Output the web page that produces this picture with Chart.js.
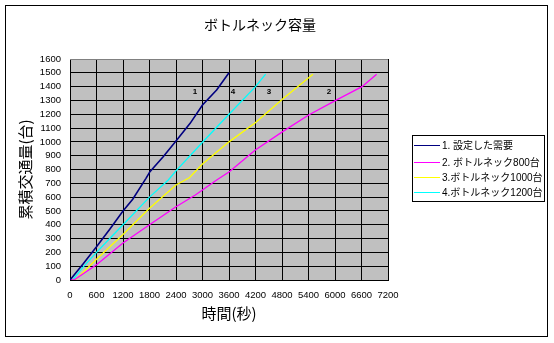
<!DOCTYPE html>
<html lang="ja">
<head>
<meta charset="utf-8">
<title>ボトルネック容量</title>
<script src="https://cdn.jsdelivr.net/npm/chart.js@4.4.1/dist/chart.umd.min.js"></script>
<style>
  html, body { margin: 0; padding: 0; background: #fff; }
  #wrap { width: 554px; height: 343px; }
</style>
</head>
<body>
<div id="wrap"><canvas id="bottleneckChart" width="554" height="343"></canvas></div>
<script>
// =============================================
// DATA — cumulative vehicles vs elapsed seconds
// =============================================
const seriesLabels = ['1. 設定した需要', '2. ボトルネック800台', '3.ボトルネック1000台', '4.ボトルネック1200台'];
const seriesColors = ['#000080', '#ff00ff', '#ffff00', '#00ffff'];

const demandT = [0, 300, 600, 900, 1200, 1420, 1720, 1810, 2110, 2400, 2720, 3000, 3320, 3600];
const demandV = [0, 118, 240, 368, 500, 585, 736, 784, 893, 1007, 1134, 1267, 1376, 1500];

const cap800T = [0, 90, 600, 1200, 1800, 2400, 2838, 3321, 3607, 4196, 4815, 5404, 6006, 6611, 6943];
const cap800V = [0, 0, 110, 268, 400, 530, 615, 724, 784, 941, 1074, 1195, 1299, 1400, 1490];

const cap1000T = [0, 120, 600, 1200, 1800, 2400, 2702, 3000, 3600, 4196, 4815, 5404, 5500];
const cap1000V = [0, 0, 150, 330, 519, 688, 740, 840, 1000, 1139, 1310, 1465, 1490];

const cap1200T = [0, 60, 300, 600, 900, 1200, 1800, 2226, 2400, 3000, 3600, 4200, 4430];
const cap1200V = [0, 0, 95, 200, 300, 400, 600, 724, 790, 997, 1200, 1400, 1490];

const xTicks = [0, 600, 1200, 1800, 2400, 3000, 3600, 4200, 4800, 5400, 6000, 6600, 7200];
const yTicks = [0, 100, 200, 300, 400, 500, 600, 700, 800, 900, 1000, 1100, 1200, 1300, 1400, 1500, 1600];

// curve tags placed in data space
const tagText = ['1', '4', '3', '2'];
const tagT = [2830, 3690, 4506, 5864];
const tagV = [1362, 1362, 1362, 1362];

const FONT = "'Liberation Sans', 'Noto Sans CJK JP', sans-serif";
const JP = "'Noto Sans CJK JP', sans-serif";

const pts = (ts, vs) => ts.map((t, i) => ({ x: t, y: vs[i] }));
const series = [pts(demandT, demandV), pts(cap800T, cap800V), pts(cap1000T, cap1000V), pts(cap1200T, cap1200V)];

// =============================================
// PLUGINS — plot fill, frame, titles, legend, tags
// =============================================
const decor = {
    id: 'decor',
    beforeDraw(chart) {
        const { ctx, chartArea: a } = chart;
        ctx.save();
        ctx.fillStyle = '#fff';
        ctx.fillRect(0, 0, chart.width, chart.height);
        ctx.fillStyle = '#c0c0c0';
        ctx.fillRect(a.left, a.top, a.right - a.left, a.bottom - a.top);
        ctx.restore();
    },
    afterDatasetsDraw(chart) {
        const { ctx, chartArea: a, scales } = chart;
        ctx.save();

        // top edge of the plot is grey
        ctx.strokeStyle = '#808080';
        ctx.lineWidth = 1;
        ctx.beginPath();
        ctx.moveTo(a.left, a.top + 0.5);
        ctx.lineTo(a.right, a.top + 0.5);
        ctx.stroke();

        // curve numbers
        ctx.fillStyle = '#000';
        ctx.font = 'bold 8px ' + FONT;
        ctx.textAlign = 'center';
        ctx.textBaseline = 'middle';
        tagText.forEach((t, i) => {
            ctx.fillText(t, scales.x.getPixelForValue(tagT[i]), scales.y.getPixelForValue(tagV[i]));
        });

        // outer frame
        ctx.strokeStyle = '#000';
        ctx.strokeRect(5.5, 5.5, 542, 331);

        // titles
        ctx.font = '14px ' + JP;
        ctx.fillText('ボトルネック容量', 260, 25);
        ctx.font = '15px ' + JP;
        ctx.fillText('時間(秒)', (a.left + a.right) / 2, 313);
        ctx.save();
        ctx.translate(25, (a.top + a.bottom) / 2);
        ctx.rotate(-Math.PI / 2);
        ctx.fillText('累積交通量(台)', 0, 0);
        ctx.restore();

        // legend box
        ctx.fillStyle = '#fff';
        ctx.fillRect(412, 135, 132, 66);
        ctx.strokeRect(412.5, 135.5, 132, 66);
        const rows = [145, 162, 177, 192];
        ctx.font = '10px ' + FONT;
        ctx.textAlign = 'left';
        seriesLabels.forEach((lab, i) => {
            ctx.strokeStyle = seriesColors[i];
            ctx.lineWidth = 1;
            ctx.beginPath();
            ctx.moveTo(414, rows[i] + 0.5);
            ctx.lineTo(440, rows[i] + 0.5);
            ctx.stroke();
            ctx.fillStyle = '#000';
            ctx.fillText(lab, 442, rows[i] + 1);
        });
        ctx.restore();
    },
};

// =============================================
// CHART
// =============================================
new Chart(document.getElementById('bottleneckChart').getContext('2d'), {
    type: 'line',
    data: {
        datasets: series.map((d, i) => ({
            label: seriesLabels[i],
            data: d,
            borderColor: seriesColors[i],
            borderWidth: i === 0 ? 1.6 : 1.3,
            pointRadius: 0,
            tension: 0,
            fill: false,
        })),
    },
    options: {
        responsive: false,
        animation: false,
        devicePixelRatio: 1,
        layout: { padding: { top: 59, right: 166, left: 0, bottom: 0 } },
        plugins: { legend: { display: false }, tooltip: { enabled: false } },
        scales: {
            x: {
                type: 'linear',
                min: 0,
                max: 7200,
                afterBuildTicks: s => { s.ticks = xTicks.map(v => ({ value: v })); },
                afterFit: s => { s.height = 63; },
                ticks: { color: '#000', font: { family: FONT, size: 9.5 }, padding: 10, maxRotation: 0, autoSkip: false, callback: v => String(v) },
                grid: { color: '#000', lineWidth: 1, drawTicks: false },
                border: { color: '#000', width: 1 },
            },
            y: {
                min: 0,
                max: 1600,
                afterBuildTicks: s => { s.ticks = yTicks.map(v => ({ value: v })); },
                afterFit: s => { s.width = 70; },
                ticks: { color: '#000', font: { family: FONT, size: 9.5 }, padding: 9, autoSkip: false, callback: v => String(v) },
                grid: { color: '#000', lineWidth: 1, drawTicks: false },
                border: { color: '#000', width: 1 },
            },
        },
    },
    plugins: [decor],
});
</script>
</body>
</html>
